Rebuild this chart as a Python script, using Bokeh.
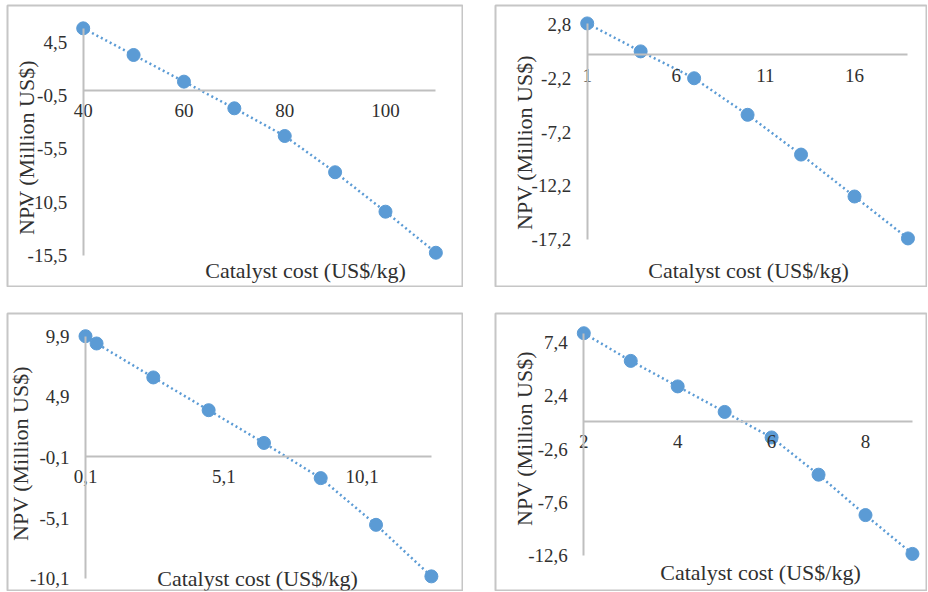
from math import pi
from bokeh.plotting import figure
from bokeh.layouts import column, row
from bokeh.models import (Range1d, FixedTicker, CustomJSTickFormatter, Label,
                          ColumnDataSource, Spacer)
from bokeh.embed import file_html
from bokeh.resources import INLINE

# ---------------- data ----------------
p1_cost = [40, 50, 60, 70, 80, 90, 100, 110]
p1_npv = [5.8, 3.3, 0.8, -1.7, -4.3, -7.7, -11.4, -15.25]
p1_xticks = [40, 60, 80, 100]
p1_yticks = [-15.5, -10.5, -5.5, -0.5, 4.5]

p2_cost = [1, 4, 7, 10, 13, 16, 19]
p2_npv = [2.9, 0.3, -2.2, -5.6, -9.3, -13.2, -17.1]
p2_xticks = [1, 6, 11, 16]
p2_yticks = [-17.2, -12.2, -7.2, -2.2, 2.8]

p3_cost = [0.1, 0.5, 2.55, 4.55, 6.55, 8.6, 10.6, 12.6]
p3_npv = [9.9, 9.3, 6.5, 3.8, 1.1, -1.8, -5.65, -9.9]
p3_xticks = [0.1, 5.1, 10.1]
p3_yticks = [-10.1, -5.1, -0.1, 4.9, 9.9]

p4_cost = [2, 3, 4, 5, 6, 7, 8, 9]
p4_npv = [8.3, 5.7, 3.3, 0.9, -1.5, -5.0, -8.8, -12.45]
p4_xticks = [2, 4, 6, 8]
p4_yticks = [-12.6, -7.6, -2.6, 2.4, 7.4]

X_TITLE = "Catalyst cost (US$/kg)"
Y_TITLE = "NPV (Million US$)"

BLUE = "#5b9bd5"
AXIS = "#bfbfbf"
BOX = "#c6c6c6"
TEXT = "#303030"
FONT = "Liberation Serif"


def panel(xs, ys, xticks, yticks, xdec, ydec, xend, ytop,
          width, height, left, top, xanchor, yanchor, xtitle_px, ytitle_px):
    # frame occupies the figure minus a 1px border
    fl, fr = left + 1, left + width - 1
    ft, fb = top + 1, top + height - 1
    px0, xv0, xsc = xanchor
    py0, yv0, ysc = yanchor

    def to_x(px):
        return xv0 + (px - px0) / xsc

    def to_y(py):
        return yv0 - (py - py0) / ysc

    p = figure(width=width, height=height,
               x_range=Range1d(to_x(fl), to_x(fr)),
               y_range=Range1d(to_y(fb), to_y(ft)),
               min_border=1, toolbar_location=None, output_backend="svg",
               background_fill_color="white", border_fill_color="white")
    p.outline_line_color = BOX
    p.outline_line_width = 2
    p.xgrid.visible = False
    p.ygrid.visible = False

    xa = p.xaxis[0]
    xa.fixed_location = 0
    xa.bounds = (xticks[0], xend)
    xa.ticker = FixedTicker(ticks=xticks)
    xa.formatter = CustomJSTickFormatter(code=f"return tick.toFixed({xdec}).replace('.', ',')")
    ya = p.yaxis[0]
    ya.fixed_location = xticks[0]
    ya.bounds = (yticks[0], ytop)
    ya.ticker = FixedTicker(ticks=yticks)
    ya.formatter = CustomJSTickFormatter(code=f"return tick.toFixed({ydec}).replace('.', ',')")
    for ax in (xa, ya):
        ax.axis_line_color = AXIS
        ax.axis_line_width = 2
        ax.major_tick_line_color = None
        ax.minor_tick_line_color = None
        ax.major_tick_out = 0
        ax.major_tick_in = 0
        ax.major_label_text_font = FONT
        ax.major_label_text_font_size = "19px"
        ax.major_label_text_color = TEXT
    xa.major_label_standoff = 14
    ya.major_label_standoff = 16

    src = ColumnDataSource(data=dict(cost=xs, npv=ys))
    p.line("cost", "npv", source=src, line_color=BLUE, line_width=2.5, line_dash="2 3")
    p.scatter("cost", "npv", source=src, size=13, fill_color=BLUE, line_color=BLUE)

    p.add_layout(Label(x=to_x(xtitle_px[0]), y=to_y(xtitle_px[1]), text=X_TITLE,
                       text_align="center", text_baseline="middle",
                       text_font=FONT, text_font_size="22px", text_color=TEXT))
    p.add_layout(Label(x=to_x(ytitle_px[0]), y=to_y(ytitle_px[1]), text=Y_TITLE, angle=pi / 2,
                       text_align="center", text_baseline="middle",
                       text_font=FONT, text_font_size="22px", text_color=TEXT))
    return p


# page placement (the layout starts at the window's top-left corner)
L1, W1 = 6, 457
L2, W2 = 494, 433
T1, H1 = 4, 283
T2, H2 = 312, 279

p1 = panel(p1_cost, p1_npv, p1_xticks, p1_yticks, 0, 1, 110, 5.8,
           W1, H1, L1, T1, (82.7, 40, 5.038), (41.7, 4.5, 10.66), (305, 270), (26, 147))
p2 = panel(p2_cost, p2_npv, p2_xticks, p2_yticks, 0, 1, 19, 2.9,
           W2, H1, L2, T1, (586.7, 1, 17.82), (24, 2.8, 10.75), (748, 270), (524, 142))
p3 = panel(p3_cost, p3_npv, p3_xticks, p3_yticks, 1, 1, 12.6, 9.9,
           W1, H2, L1, T2, (85, 0.1, 27.67), (335.7, 9.9, 12.13), (257, 578), (20, 453))
p4 = panel(p4_cost, p4_npv, p4_xticks, p4_yticks, 0, 1, 9, 8.3,
           W2, H2, L2, T2, (583.3, 2, 46.95), (342.3, 7.4, 10.635), (760, 572), (524, 438))

gap_x = L2 - (L1 + W1)
gap_y = T2 - (T1 + H1)
layout = column(
    Spacer(height=T1),
    row(Spacer(width=L1), p1, Spacer(width=gap_x), p2, spacing=0),
    Spacer(height=gap_y),
    row(Spacer(width=L1), p3, Spacer(width=gap_x), p4, spacing=0),
    spacing=0,
)

open("out.html", "w").write(file_html(layout, INLINE))
